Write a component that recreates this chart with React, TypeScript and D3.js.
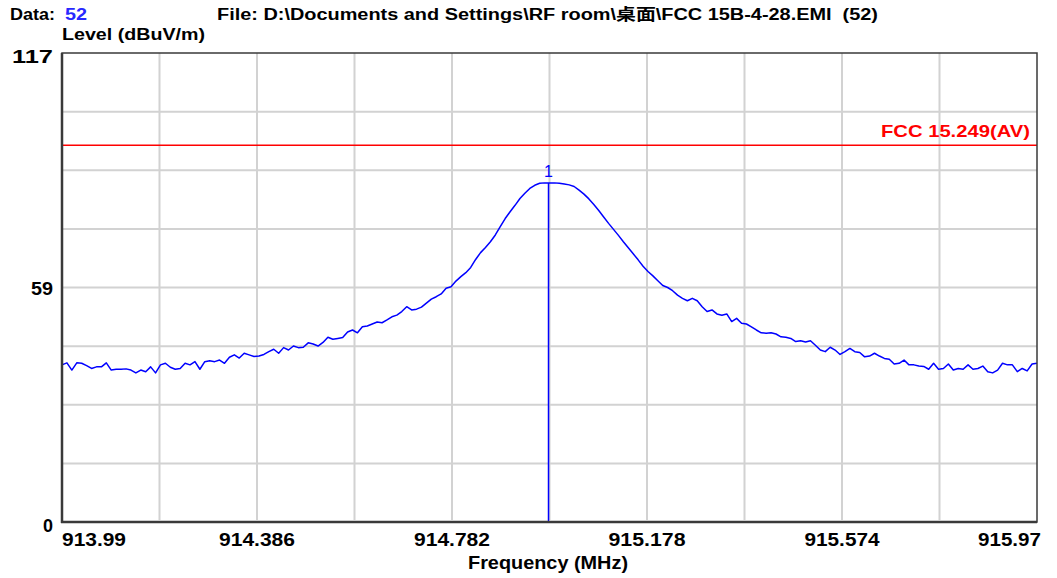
import React from 'react';
import * as d3 from 'd3';

// sweep: 913.99 .. 915.97 MHz, 0.01 MHz step
const startFreq = 913.99;
const stopFreq = 915.97;
const freqStep = 0.01;

const levels = [
    39.2, 39.7, 37.9, 39.7, 39.6, 39.0, 38.3, 38.7, 38.7, 39.7,
    37.9, 38.1, 38.1, 38.2, 37.9, 37.2, 37.9, 37.5, 38.7, 37.2,
    39.2, 39.6, 38.6, 38.1, 38.3, 39.6, 39.2, 40.0, 38.1, 40.0,
    40.2, 40.0, 40.4, 39.6, 41.1, 41.7, 40.9, 42.1, 41.7, 41.3,
    41.4, 41.8, 42.5, 43.1, 42.1, 43.5, 42.9, 43.9, 43.5, 43.6,
    44.7, 44.4, 43.9, 44.8, 46.1, 45.6, 45.8, 46.0, 47.4, 47.9,
    47.2, 48.7, 48.9, 49.4, 49.9, 49.7, 50.4, 51.2, 51.6, 52.5,
    53.7, 52.9, 53.1, 53.6, 54.6, 55.6, 56.2, 56.9, 58.3, 58.7,
    60.1, 61.2, 62.2, 63.5, 65.5, 67.2, 68.5, 69.9, 71.6, 73.7,
    75.7, 77.4, 79.0, 80.7, 82.0, 83.2, 84.0, 84.5, 84.6, 84.6,
    84.6, 84.5, 84.3, 84.1, 83.7, 82.8, 81.8, 80.6, 79.2, 77.7,
    76.1, 74.5, 73.0, 71.5, 69.9, 68.4, 66.9, 65.4, 63.8, 62.5,
    61.4, 60.2, 59.0, 58.5, 57.7, 56.6, 55.8, 55.2, 55.8, 55.2,
    53.7, 52.5, 52.9, 51.9, 51.6, 51.9, 50.0, 50.8, 49.6, 49.4,
    48.7, 47.9, 47.2, 47.1, 47.2, 46.9, 46.2, 46.1, 45.8, 45.0,
    45.2, 44.9, 45.2, 44.1, 42.9, 42.5, 43.6, 42.9, 41.8, 42.5,
    43.3, 42.5, 42.3, 41.2, 41.4, 42.1, 41.4, 40.8, 40.6, 39.4,
    39.6, 40.4, 39.2, 39.2, 38.9, 38.8, 38.1, 39.6, 38.1, 38.3,
    39.4, 37.9, 38.3, 38.1, 39.2, 38.1, 38.3, 38.9, 37.5, 37.2,
    37.9, 39.6, 39.2, 39.2, 37.5, 38.3, 37.7, 39.4, 39.6,
];

const xTickLabels = ['913.99', '914.386', '914.782', '915.178', '915.574', '915.97'];
const yTickLabels = ['0', '59', '117'];

const levelMin = 0;
const levelMax = 117;
const xDivisions = 10;
const yDivisions = 8;

const limitLevel = 94;
const limitLabel = 'FCC 15.249(AV)';

const markerFreq = 914.978;
const markerLevel = 84.6;
const markerLabel = '1';

const W = 1057;
const H = 578;
const plot = { left: 62, right: 1037, top: 53, bottom: 522 };
const FONT = '"Liberation Sans", Arial, "Noto Sans CJK SC", sans-serif';
const BLUE = '#0000ff';

const App: React.FC = () => {
    const x = d3.scaleLinear().domain([startFreq, stopFreq]).range([plot.left, plot.right]);
    const y = d3.scaleLinear().domain([levelMin, levelMax]).range([plot.bottom, plot.top]);

    const xGrid = d3.range(1, xDivisions).map(k => startFreq + (k * (stopFreq - startFreq)) / xDivisions);
    const yGrid = d3.range(1, yDivisions).map(k => levelMin + (k * (levelMax - levelMin)) / yDivisions);

    const line = d3.line<number>()
        .x((_d, i) => x(startFreq + i * freqStep))
        .y(d => y(d));

    const xTickFreqs = xTickLabels.map(Number);
    const xLabelWidths = [64, 76, 76, 77, 75, 63];
    const yLabelWidths = [10, 22, 41];
    const yLabelBase = [532, 295, 63];

    return (
        <svg width={W} height={H} style={{ position: 'absolute', left: 0, top: 0, background: '#fff' }}
            fontFamily={FONT}>
            {/* header */}
            <text x={10} y={20} fontSize={16} fontWeight="bold" textLength={45} lengthAdjust="spacingAndGlyphs">Data:</text>
            <text x={65} y={20} fontSize={16} fontWeight="bold" fill="#2828ff" textLength={22} lengthAdjust="spacingAndGlyphs">52</text>
            <text x={217} y={20} fontSize={16} fontWeight="bold" textLength={661} lengthAdjust="spacingAndGlyphs"
                style={{ whiteSpace: 'pre' }}>
                {'File: D:\\Documents and Settings\\RF room\\桌面\\FCC 15B-4-28.EMI\u00a0\u00a0(52)'}
            </text>
            <text x={62} y={40} fontSize={17} fontWeight="bold" textLength={143} lengthAdjust="spacingAndGlyphs">Level (dBuV/m)</text>

            {/* grid */}
            {xGrid.map((f, i) => (
                <line key={`gx${i}`} x1={x(f)} x2={x(f)} y1={plot.top} y2={plot.bottom - 2}
                    stroke="#d2d2d2" strokeWidth={2} />
            ))}
            {yGrid.map((v, i) => (
                <line key={`gy${i}`} x1={plot.left} x2={plot.right} y1={y(v)} y2={y(v)}
                    stroke="#d2d2d2" strokeWidth={2} />
            ))}

            {/* limit line */}
            <line x1={plot.left} x2={plot.right} y1={y(limitLevel)} y2={y(limitLevel)} stroke="#ff0000" strokeWidth={1.6} />
            <text x={1030} y={137} fontSize={17} fontWeight="bold" fill="#ff0000" textAnchor="end"
                textLength={149} lengthAdjust="spacingAndGlyphs">{limitLabel}</text>

            {/* trace */}
            <path d={line(levels) ?? ''} fill="none" stroke={BLUE} strokeWidth={1.5} strokeLinejoin="round" />

            {/* marker */}
            <line x1={x(markerFreq)} x2={x(markerFreq)} y1={y(markerLevel)} y2={plot.bottom} stroke={BLUE} strokeWidth={1.5} />
            <text x={x(markerFreq)} y={177} fontSize={16} fill={BLUE} textAnchor="middle">{markerLabel}</text>

            {/* frame */}
            <rect x={plot.left} y={plot.top} width={plot.right - plot.left} height={plot.bottom - plot.top}
                fill="none" stroke="#3a3a3a" strokeWidth={1.5} />
            <line x1={plot.left} x2={plot.left} y1={plot.top} y2={plot.bottom + 1} stroke="#3a3a3a" strokeWidth={2.5} />
            <line x1={plot.left - 1} x2={plot.right} y1={plot.bottom} y2={plot.bottom} stroke="#3a3a3a" strokeWidth={2.5} />

            {/* y tick labels */}
            {yTickLabels.map((t, i) => (
                <text key={`yl${i}`} x={53} y={yLabelBase[i]} fontSize={18} fontWeight="bold" textAnchor="end"
                    textLength={yLabelWidths[i]} lengthAdjust="spacingAndGlyphs">{t}</text>
            ))}

            {/* x tick labels */}
            {xTickLabels.map((t, i) => {
                const last = i === xTickLabels.length - 1;
                const anchor = i === 0 ? 'start' : last ? 'end' : 'middle';
                const px = last ? x(xTickFreqs[i]) + 4 : x(xTickFreqs[i]);
                return (
                    <text key={`xl${i}`} x={px} y={546} fontSize={19} fontWeight="bold" textAnchor={anchor}
                        textLength={xLabelWidths[i]} lengthAdjust="spacingAndGlyphs">{t}</text>
                );
            })}
            <text x={548} y={569} fontSize={18} fontWeight="bold" textAnchor="middle"
                textLength={160} lengthAdjust="spacingAndGlyphs">Frequency (MHz)</text>
        </svg>
    );
};

export default App;
